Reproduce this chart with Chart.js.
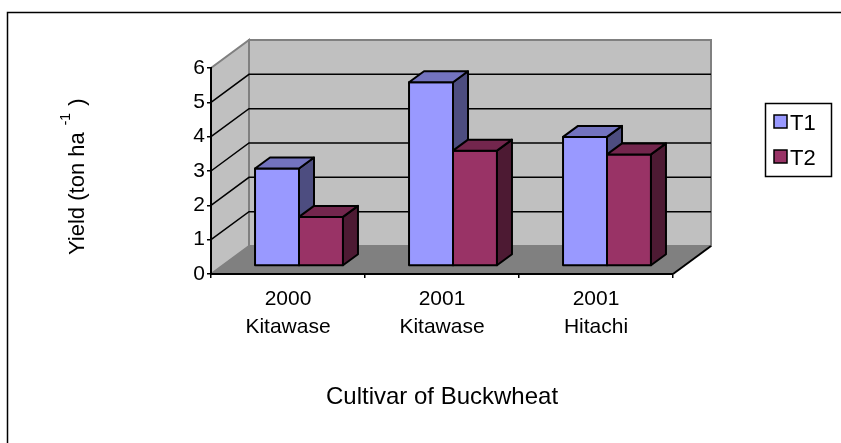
<!DOCTYPE html>
<html>
<head>
<meta charset="utf-8">
<script src="https://cdn.jsdelivr.net/npm/chart.js@4.4.1/dist/chart.umd.min.js"></script>
<style>
  html, body { margin: 0; padding: 0; background: #fff; }
  #wrap { width: 841px; height: 443px; }
</style>
</head>
<body>
<div id="wrap"><canvas id="yieldChart" width="841" height="443"></canvas></div>
<script>
const categories = [["2000", "Kitawase"], ["2001", "Kitawase"], ["2001", "Hitachi"]];
const seriesNames = ["T1", "T2"];
const t1Yield = [2.84, 5.35, 3.76];
const t2Yield = [1.43, 3.36, 3.25];
const yTicks = [0, 1, 2, 3, 4, 5, 6];

const FONT = "'Liberation Sans', Arial, sans-serif";
// depth of the box (back wall offset) and of each column
const DX = 38, DY = 28;
const BAR_DX = 15, BAR_DY = 11;
const SHIFT_X = 11, SHIFT_Y = -8;

const faces = [
  { front: "#9999FF", top: "#7373BF", side: "#4D4D80" },
  { front: "#993366", top: "#73264D", side: "#4D1A33" }
];

function poly(ctx, pts, fill, stroke, lw) {
  ctx.beginPath();
  ctx.moveTo(pts[0][0], pts[0][1]);
  for (let i = 1; i < pts.length; i++) ctx.lineTo(pts[i][0], pts[i][1]);
  ctx.closePath();
  if (fill) { ctx.fillStyle = fill; ctx.fill(); }
  if (stroke) { ctx.strokeStyle = stroke; ctx.lineWidth = lw; ctx.stroke(); }
}

const boxPlugin = {
  id: "box3d",
  beforeDraw(chart) {
    const ctx = chart.ctx;
    const xs = chart.scales.x, ys = chart.scales.y;
    const L = xs.left, R = xs.right;
    const y0 = ys.getPixelForValue(0), yTop = ys.getPixelForValue(yTicks[yTicks.length - 1]);
    ctx.save();
    ctx.fillStyle = "#fff";
    ctx.fillRect(0, 0, chart.width, chart.height);
    ctx.lineJoin = "miter";
    // back wall
    poly(ctx, [[L + DX, yTop - DY], [R + DX, yTop - DY], [R + DX, y0 - DY], [L + DX, y0 - DY]], "#C0C0C0", "#808080", 2);
    // side wall
    poly(ctx, [[L, y0], [L, yTop], [L + DX, yTop - DY], [L + DX, y0 - DY]], "#C0C0C0", "#808080", 2);
    // floor
    poly(ctx, [[L, y0], [R, y0], [R + DX, y0 - DY], [L + DX, y0 - DY]], "#808080", null, 0);
    ctx.strokeStyle = "#000";
    ctx.lineWidth = 2;
    ctx.beginPath();
    ctx.moveTo(R, y0); ctx.lineTo(R + DX, y0 - DY);
    ctx.stroke();
    // gridlines
    ctx.lineWidth = 1.5;
    yTicks.forEach(v => {
      if (v === yTicks[0] || v === yTicks[yTicks.length - 1]) return;
      const py = ys.getPixelForValue(v);
      ctx.beginPath();
      ctx.moveTo(L, py); ctx.lineTo(L + DX, py - DY); ctx.lineTo(R + DX, py - DY);
      ctx.stroke();
    });
    ctx.restore();
  },
  beforeDatasetsDraw(chart) {
    chart.ctx.save();
    chart.ctx.translate(SHIFT_X, SHIFT_Y);
  },
  afterDatasetsDraw(chart) {
    const ctx = chart.ctx;
    ctx.lineJoin = "round";
    for (let i = 0; i < categories.length; i++) {
      chart.data.datasets.forEach((ds, d) => {
        const bar = chart.getDatasetMeta(d).data[i];
        const hw = bar.width / 2;
        const l = bar.x - hw, r = bar.x + hw, t = bar.y, b = bar.base;
        const f = faces[d];
        poly(ctx, [[l, t], [r, t], [r, b], [l, b]], f.front, "#000", 2);
        poly(ctx, [[r, t], [r + BAR_DX, t - BAR_DY], [r + BAR_DX, b - BAR_DY], [r, b]], f.side, "#000", 2);
        poly(ctx, [[l, t], [l + BAR_DX, t - BAR_DY], [r + BAR_DX, t - BAR_DY], [r, t]], f.top, "#000", 2);
      });
    }
    ctx.restore();
  },
  afterDraw(chart) {
    const ctx = chart.ctx;
    ctx.save();
    // outer frame
    ctx.strokeStyle = "#000";
    ctx.lineWidth = 1.5;
    ctx.strokeRect(7.5, 12.5, 1000, 600);
    // y axis title with superscript
    ctx.translate(84, 255);
    ctx.rotate(-Math.PI / 2);
    ctx.fillStyle = "#000";
    ctx.textBaseline = "alphabetic";
    ctx.textAlign = "left";
    ctx.font = "22px " + FONT;
    const main = "Yield (ton ha";
    const w1 = ctx.measureText(main).width;
    ctx.fillText(main, 0, 0);
    ctx.font = "14px " + FONT;
    const sup = "-1";
    ctx.fillText(sup, w1 + 7, -14);
    const w2 = ctx.measureText(sup).width;
    ctx.font = "22px " + FONT;
    ctx.fillText(")", w1 + 7 + w2 + 7, 0);
    ctx.restore();
    // legend
    ctx.save();
    ctx.strokeStyle = "#000";
    ctx.lineWidth = 1.5;
    ctx.strokeRect(765.5, 103.5, 66, 73);
    ctx.font = "22px " + FONT;
    ctx.textBaseline = "middle";
    ctx.fillStyle = "#000";
    seriesNames.forEach((name, d) => {
      const top = 115 + d * 35;
      ctx.fillStyle = faces[d].front;
      ctx.fillRect(774, top, 13, 13);
      ctx.strokeRect(774, top, 13, 13);
      ctx.fillStyle = "#000";
      ctx.fillText(name, 790, top + 9);
    });
    ctx.restore();
  }
};

const ctx = document.getElementById("yieldChart");
new Chart(ctx, {
  type: "bar",
  data: {
    labels: categories,
    datasets: [
      { label: seriesNames[0], data: t1Yield, backgroundColor: faces[0].front, borderColor: "#000", borderWidth: 2, clip: false },
      { label: seriesNames[1], data: t2Yield, backgroundColor: faces[1].front, borderColor: "#000", borderWidth: 2, clip: false }
    ]
  },
  options: {
    responsive: false,
    animation: false,
    layout: { padding: { top: 68, right: 168, bottom: 0, left: 0 } },
    datasets: { bar: { categoryPercentage: 0.571, barPercentage: 1 } },
    plugins: { legend: { display: false }, tooltip: { enabled: false } },
    scales: {
      x: {
        afterFit: s => { s.height = 169; },
        grid: { drawOnChartArea: false, offset: true, color: "#000", lineWidth: 1.5, tickLength: 4 },
        border: { display: true, color: "#000", width: 2 },
        ticks: { color: "#000", padding: 8, maxRotation: 0, font: { family: FONT, size: 21, lineHeight: 1.3 } },
        title: { display: true, text: "Cultivar of Buckwheat", color: "#000", font: { family: FONT, size: 24 }, padding: { top: 0, bottom: 31 } }
      },
      y: {
        min: 0,
        max: 6,
        afterFit: s => { s.width = 211; },
        afterBuildTicks: s => { s.ticks = yTicks.map(v => ({ value: v })); },
        grid: { drawOnChartArea: false, color: "#000", lineWidth: 1.5, tickLength: 4 },
        border: { display: true, color: "#000", width: 2 },
        ticks: { color: "#000", padding: 2, font: { family: FONT, size: 21 } }
      }
    }
  },
  plugins: [boxPlugin]
});
</script>
</body>
</html>
